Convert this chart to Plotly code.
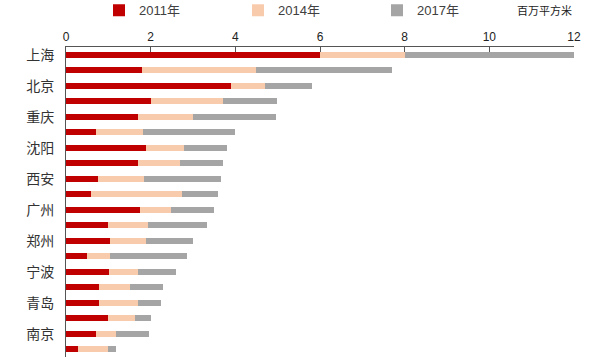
import plotly.graph_objects as go

# Row labels (every other row is labelled in the original chart)
labels = ["上海", "", "北京", "", "重庆", "", "沈阳", "", "西安", "",
          "广州", "", "郑州", "", "宁波", "", "青岛", "", "南京", ""]
# Segment lengths (stacked), million m²
v2011 = [6.00, 1.79, 3.89, 2.00, 1.69, 0.70, 1.89, 1.69, 0.75, 0.59,
         1.75, 1.00, 1.04, 0.50, 1.02, 0.79, 0.79, 1.00, 0.70, 0.29]
v2014 = [2.00, 2.70, 0.81, 1.70, 1.31, 1.11, 0.90, 1.01, 1.10, 2.15,
         0.74, 0.94, 0.85, 0.55, 0.68, 0.71, 0.91, 0.64, 0.49, 0.71]
v2017 = [4.00, 3.22, 1.10, 1.29, 1.95, 2.19, 1.01, 1.00, 1.80, 0.85,
         1.00, 1.40, 1.11, 1.80, 0.90, 0.80, 0.55, 0.36, 0.76, 0.19]
series_names = ["2011年", "2014年", "2017年"]
colors = ["#C00000", "#F8CBAD", "#A5A5A5"]
x_ticks = [0, 2, 4, 6, 8, 10, 12]

rows = list(range(len(labels)))

fig = go.Figure()
for name, vals, c in zip(series_names, [v2011, v2014, v2017], colors):
    fig.add_trace(go.Bar(y=rows, x=vals, orientation="h", name=name,
                         marker=dict(color=c, line=dict(width=0))))

fig.update_layout(
    barmode="stack",
    bargap=0.6,
    width=600, height=363,
    margin=dict(l=66, r=26, t=47, b=6, autoexpand=False),
    plot_bgcolor="white", paper_bgcolor="white",
    font=dict(family="Noto Sans CJK SC, Noto Sans, sans-serif", color="#333333"),
    legend=dict(orientation="h", x=0.165, xanchor="left", xref="container",
                y=1.118, yanchor="middle", yref="paper",
                entrywidth=94, itemwidth=30, tracegroupgap=0,
                font=dict(size=13, color="#404040", family="Liberation Sans, Noto Sans CJK SC"),
                traceorder="normal"),
    xaxis=dict(side="top", range=[0, 12], tickvals=x_ticks,
               ticks="inside", ticklen=5, tickcolor="#555555",
               showline=True, linecolor="#555555", linewidth=1,
               showgrid=False, zeroline=False,
               tickfont=dict(size=12, family="Liberation Sans, sans-serif", color="#222222")),
    yaxis=dict(range=[19.5, -0.5], tickvals=rows, ticktext=labels,
               showline=True, linecolor="#555555", linewidth=1,
               showgrid=False, zeroline=False, ticks="", ticklabelstandoff=8,
               tickfont=dict(size=14, family="Noto Sans CJK SC", color="#333333")),
    annotations=[dict(text="百万平方米", x=1.0, xanchor="right", y=1.12,
                      yref="paper", xref="paper", yanchor="middle",
                      showarrow=False,
                      font=dict(size=11, family="Noto Sans CJK SC", color="#222222"))],
)
fig.write_html("out.html", config={"displayModeBar": False},
               post_script="document.body.style.margin='0';")
